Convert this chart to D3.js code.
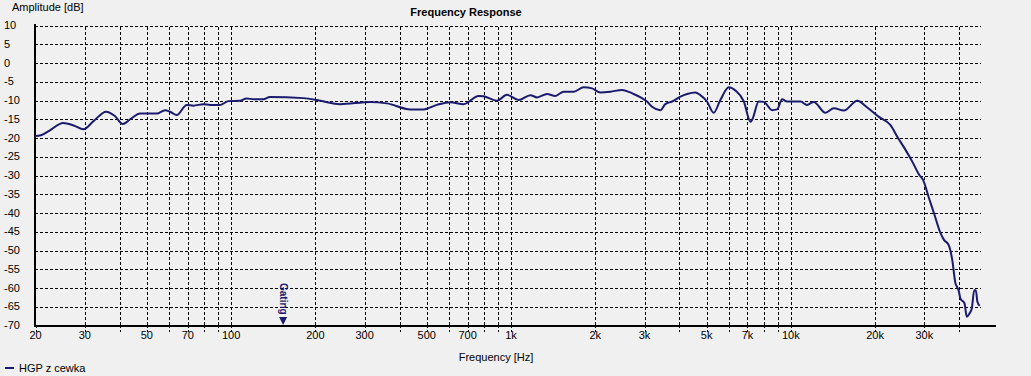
<!DOCTYPE html>
<html><head><meta charset="utf-8">
<script src="https://cdn.jsdelivr.net/npm/d3@7"></script>
<style>
html,body{margin:0;padding:0;background:#f0f0f0;}
svg{display:block;font-family:"Liberation Sans",Arial,sans-serif;}
</style></head><body>
<svg id="c" width="1031" height="376"></svg>
<script>
const freqHz = [20,21,22.6,25.2,27.5,29.8,32.5,35.9,38.5,41.2,44,47.5,54.5,58.3,61,64.2,69.7,73.6,80,84.5,91.7,98.2,108,114,121,131,138,182,209,246,316,362,439,489,546,609,680,769,801,895,971,1069,1178,1244,1351,1446,1549,1682,1826,1955,2095,2275,2503,2754,2951,3075,3205,3434,3575,3780,4047,4276,4580,4768,5038,5322,5623,6025,6369,6822,7200,7300,7710,8036,8610,8970,9340,9730,10860,11470,12120,13350,14300,15530,17340,18830,20720,22800,24200,25800,27300,28900,29800,31300,32600,34400,35400,36800,37900,38900,39400,40000,40500,41900,42700,43600,44500,45400,46000,46600,47500];
const ampDb = [-19.6,-19.4,-18.1,-16.1,-16.8,-17.8,-15.5,-13.1,-14.2,-16.4,-15.0,-13.6,-13.6,-12.7,-13.2,-14.0,-11.3,-11.5,-11.1,-11.3,-11.3,-10.3,-10.2,-9.6,-9.8,-9.8,-9.2,-9.5,-10.2,-11.1,-10.5,-10.9,-12.5,-12.5,-11.3,-10.6,-11.1,-8.9,-9.0,-10.2,-8.6,-10.0,-8.7,-9.3,-8.4,-8.9,-7.8,-7.8,-6.6,-6.9,-8.0,-7.8,-7.3,-8.4,-9.5,-10.4,-11.8,-12.7,-11.1,-10.4,-9.1,-8.4,-8.0,-8.7,-10.4,-13.4,-10.0,-6.6,-7.5,-10.4,-15.8,-15.3,-10.4,-10.5,-12.7,-12.5,-9.8,-10.4,-10.4,-11.3,-10.5,-13.4,-12.2,-12.8,-10.2,-12.0,-14.5,-16.7,-20.0,-23.3,-26.5,-30.0,-31.3,-36.2,-40.2,-45.5,-47.3,-48.7,-52.7,-58.9,-59.8,-61.0,-62.9,-64.2,-67.8,-67.0,-65.6,-60.7,-60.7,-63.8,-64.9];
const xGridFreqs = [30,40,50,60,70,80,90,100,200,300,400,500,600,700,800,900,1000,2000,3000,4000,5000,6000,7000,8000,9000,10000,20000,30000,40000];
const xTickFreqs = [20].concat(xGridFreqs);
const xLabelFreqs = [20,30,50,70,100,200,300,500,700,1000,2000,3000,5000,7000,10000,20000,30000];
const yTicks = [-70,-65,-60,-55,-50,-45,-40,-35,-30,-25,-20,-15,-10,-5,0,5,10];
const seriesName = "HGP z cewka";
const gatingHz = 154;

const L=35, R=981, T=25, B=325;
const svg = d3.select("#c");
const x = d3.scaleLog().domain([20,48000]).range([L,R]);
const y = d3.scaleLinear().domain([-70,10]).range([B,T]);
const fmt = v => v>=1000 ? (v/1000)+"k" : String(v);

// horizontal grid
const gy = svg.append("g").attr("transform",`translate(${L},0.5)`)
  .call(d3.axisLeft(y).tickValues(yTicks.filter(v=>v>-70)).tickSize(-(R-L)).tickFormat(""));
gy.select(".domain").remove();
gy.selectAll("line").attr("stroke","#000").attr("stroke-dasharray","3,2").attr("shape-rendering","crispEdges");

// vertical grid
const gx = svg.append("g").attr("transform",`translate(0.5,${B})`)
  .call(d3.axisBottom(x).tickValues(xGridFreqs).tickSize(-(B-T)).tickFormat(""));
gx.select(".domain").remove();
gx.selectAll("line").attr("stroke","#000").attr("stroke-dasharray","3,2").attr("shape-rendering","crispEdges");

// tick marks below axis
const tk = svg.append("g").attr("transform",`translate(0.5,${B+1})`)
  .call(d3.axisBottom(x).tickValues(xTickFreqs).tickSize(8).tickFormat(""));
tk.select(".domain").remove();
tk.selectAll("line").attr("stroke","#000").attr("stroke-dasharray","2,2").attr("shape-rendering","crispEdges");

// x labels
const xl = svg.append("g").attr("transform",`translate(0,${B+3})`)
  .call(d3.axisBottom(x).tickValues(xLabelFreqs).tickSize(0).tickFormat(fmt));
xl.select(".domain").remove();
xl.selectAll("text").attr("font-size","11px").attr("fill","#000").attr("font-family","Liberation Sans, Arial, sans-serif");

// y labels
svg.append("g").selectAll("text").data(yTicks).join("text")
  .attr("x",4).attr("y",d=>y(d)+4).attr("font-size","11px").attr("fill","#000").text(d=>d);

// axes lines
svg.append("line").attr("x1",L).attr("x2",L).attr("y1",T-1).attr("y2",B+2).attr("stroke","#000").attr("stroke-width",2);
svg.append("line").attr("x1",L-1).attr("x2",996).attr("y1",B+1).attr("y2",B+1).attr("stroke","#000").attr("stroke-width",2);

// curve
const pts = freqHz.map((f,i)=>[f,ampDb[i]]);
svg.append("path").datum(pts)
  .attr("d", d3.line().x(d=>x(d[0])).y(d=>y(d[1])).curve(d3.curveMonotoneX))
  .attr("fill","none").attr("stroke","#1a1a6e").attr("stroke-width",2).attr("stroke-linejoin","round");

// gating marker
const gxp = x(gatingHz);
svg.append("path").attr("d",`M${gxp-4},${B-8}L${gxp+4},${B-8}L${gxp},${B}Z`).attr("fill","#1a1a6e");
svg.append("text").attr("transform",`translate(${gxp-3},${B-42}) rotate(90)`)
  .attr("font-size","10px").attr("font-weight","bold").attr("fill","#1a1a6e").text("Gating");

// titles
svg.append("text").attr("x",466).attr("y",16).attr("text-anchor","middle")
  .attr("font-size","11px").attr("font-weight","bold").attr("fill","#000").text("Frequency Response");
svg.append("text").attr("x",12).attr("y",11).attr("font-size","11px").attr("fill","#000").text("Amplitude [dB]");
svg.append("text").attr("x",496).attr("y",361).attr("text-anchor","middle").attr("font-size","11px").attr("fill","#000").text("Frequency [Hz]");

// legend
svg.append("line").attr("x1",5).attr("x2",14).attr("y1",368).attr("y2",368).attr("stroke","#1a1a6e").attr("stroke-width",2);
svg.append("text").attr("x",19).attr("y",372).attr("font-size","11px").attr("fill","#000").text(seriesName);
</script>
</body></html>
